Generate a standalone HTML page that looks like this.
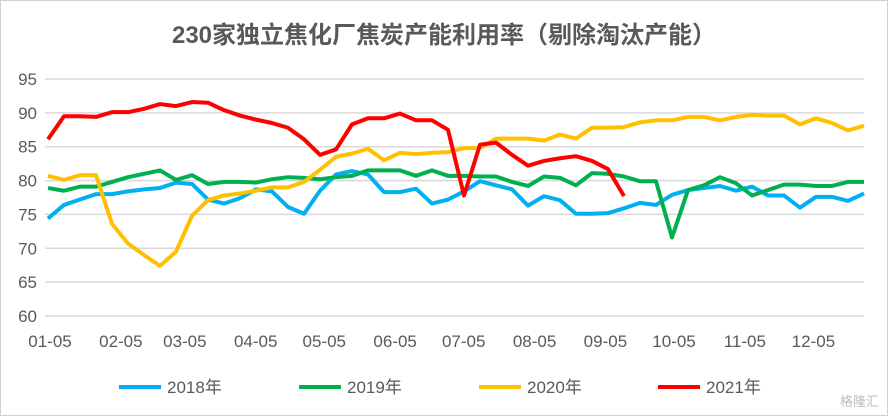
<!DOCTYPE html>
<html><head><meta charset="utf-8"><style>
body{margin:0;background:#fff;}
#wrap{position:relative;width:886px;height:414px;border:1px solid #d0d0d0;background:#fff;font-family:"Liberation Sans","Noto Sans CJK SC",sans-serif;}
</style></head><body>
<div id="wrap">
<svg id="chart" width="886" height="414"></svg>
</div>
<script>
const categories = Array.from({length:52},(_,i)=>'W'+(i+1));
const s2018 = [74.4,76.4,77.2,78.0,78.0,78.4,78.7,78.9,79.7,79.5,77.2,76.6,77.4,78.7,78.4,76.1,75.1,78.5,80.9,81.4,80.9,78.3,78.3,78.8,76.6,77.2,78.4,79.9,79.3,78.7,76.3,77.7,77.1,75.1,75.1,75.2,75.9,76.7,76.4,77.9,78.6,78.9,79.2,78.5,79.1,77.8,77.8,76.0,77.6,77.6,77.0,78.1];
const s2019 = [78.9,78.5,79.1,79.1,79.8,80.5,81.0,81.5,80.1,80.8,79.5,79.8,79.8,79.7,80.2,80.5,80.4,80.2,80.5,80.7,81.5,81.5,81.5,80.7,81.5,80.7,80.7,80.6,80.6,79.8,79.2,80.6,80.4,79.3,81.1,81.0,80.6,79.9,79.9,71.6,78.6,79.3,80.5,79.6,77.8,78.6,79.4,79.4,79.2,79.2,79.8,79.8];
const s2020 = [80.7,80.1,80.8,80.8,73.6,70.7,69.0,67.4,69.5,74.8,77.1,77.8,78.1,78.5,79.0,79.0,79.8,81.6,83.5,84.0,84.7,83.0,84.1,83.9,84.1,84.2,84.8,84.8,86.2,86.2,86.2,85.9,86.8,86.2,87.8,87.8,87.9,88.6,88.9,88.9,89.4,89.4,88.9,89.4,89.7,89.6,89.6,88.3,89.2,88.5,87.4,88.1];
const s2021 = [86.1,89.5,89.5,89.4,90.1,90.1,90.6,91.3,91.0,91.6,91.5,90.4,89.6,89.0,88.5,87.8,86.1,83.8,84.6,88.3,89.2,89.2,89.9,88.9,88.9,87.5,77.8,85.3,85.6,83.8,82.2,82.9,83.3,83.6,82.9,81.7,77.7];
const yTicks = [60,65,70,75,80,85,90,95];
const xTickLabels = ['01-05','02-05','03-05','04-05','05-05','06-05','07-05','08-05','09-05','10-05','11-05','12-05'];
const xTickDays = [4,35,63,94,124,155,185,216,247,277,308,338];

const svg=document.getElementById('chart');
const NS='http://www.w3.org/2000/svg';
const X0=47,STEP=16,PL=44,PR=863;
function xs(i){return X0+i*STEP;}
function ys(v){return 315-(v-60)*(237/35);}
function mk(t,a,p){const e=document.createElementNS(NS,t);for(const k in a)e.setAttribute(k,a[k]);(p||svg).appendChild(e);return e;}

const title=mk('text',{x:443,y:42,'text-anchor':'middle','font-size':24,'font-weight':'bold',fill:'#595959'});


title.textContent='230家独立焦化厂焦炭产能利用率（剔除淘汰产能）';

yTicks.forEach(v=>{
  const g=mk('line',{x1:PL,x2:PR,y1:ys(v),y2:ys(v),stroke:'#d9d9d9','stroke-width':1.5});
  
  
  const t=mk('text',{x:36,y:ys(v)+6,'text-anchor':'end','font-size':17,fill:'#595959'});
  
  
  t.textContent=v;
});
xTickLabels.forEach((l,k)=>{
  const t=mk('text',{x:xs((xTickDays[k]-4)/7)+2,y:346,'text-anchor':'middle','font-size':17,fill:'#595959'});
  
  
  t.textContent=l;
});

const series=[['2018年',s2018,'#00b0f0'],['2019年',s2019,'#00b050'],['2020年',s2020,'#ffc000'],['2021年',s2021,'#ff0000']];
const legX=[118,298,478,657];
series.forEach((s,k)=>{
  const p=mk('polyline',{points:s[1].map((v,i)=>xs(i)+','+ys(v)).join(' '),fill:'none',stroke:s[2],'stroke-width':4,'stroke-linejoin':'round'});
  
  
  const l=mk('line',{x1:legX[k],x2:legX[k]+42,y1:386,y2:386,stroke:s[2],'stroke-width':4});
  
  
  const t=mk('text',{x:legX[k]+48,y:392,'font-size':17,fill:'#595959'});
  
  
  t.textContent=s[0];
});
const wm=mk('text',{x:878,y:405,'text-anchor':'end','font-size':13,fill:'#bbbbbb'});


wm.textContent='格隆汇';
</script>
</body></html>
